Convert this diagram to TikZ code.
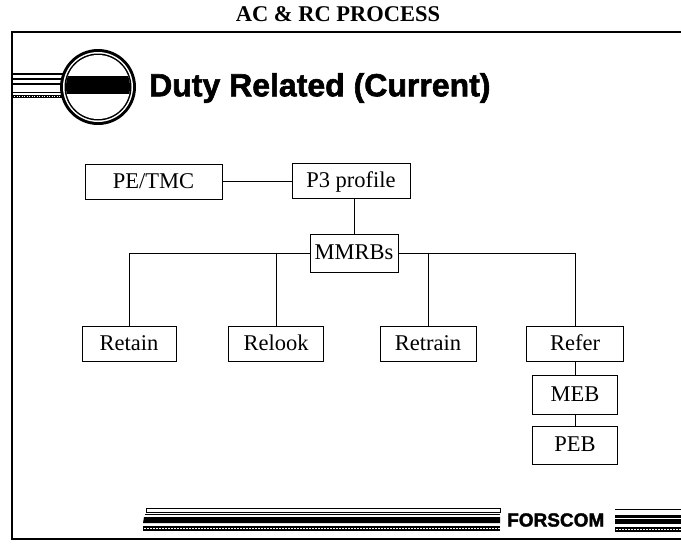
\documentclass[tikz,border=0pt]{standalone}
\usepackage{fontspec}
\setmainfont{Liberation Serif}
\newfontfamily\heavy{Liberation Sans}[BoldFeatures={FakeBold=1.8}]
\begin{document}
\begin{tikzpicture}[x=1pt,y=-1pt,
  box/.style={draw, line width=1pt, minimum height=35pt, inner sep=0pt, text height=15pt, text depth=1.5pt, font=\fontsize{22.5}{22.5}\selectfont},
  conn/.style={line width=1pt},
  frame/.style={line width=2pt}]
\useasboundingbox (0,0) rectangle (681,547);
% title
\node[font=\fontsize{22.5}{22.5}\selectfont\bfseries] (ttl) at (338,14) {AC \& RC PROCESS};
% frame
\draw[frame] (681,32) -- (12,32) -- (12,539) -- (681,539);
% logo stripes left
\draw[line width=1.2pt] (12,74) -- (66,74);
\draw[line width=1.2pt] (12,79) -- (66,79);
\draw[line width=2pt] (12,84) -- (66,84);
\draw[line width=1pt] (12,92) -- (66,92);
\fill (12,95) rectangle (66,98);
\draw[white, line width=0.6pt, dash pattern=on 1pt off 1.5pt] (14,96.5) -- (64,96.5);
% logo circle
\fill (98,87) circle (38);
\fill[white] (98,87) circle (35);
\fill (98,87) circle (33.5);
\fill[white] (98,87) circle (32);
\begin{scope}
\clip (98,87) circle (32);
\fill (60,76) rectangle (140,94);
\end{scope}
% heading
\node[anchor=west, font=\fontsize{32}{32}\selectfont\heavy\bfseries, inner sep=0pt] (hd) at (149,88) {Duty Related (Current)};
% boxes
\node[box, minimum width=137pt] (pe) at (153.5,181.5) {PE/TMC};
\node[box, minimum width=118pt] (p3) at (351,181) {P3 profile};
\node[box, minimum width=88pt, minimum height=38pt] (mm) at (354,253) {MMRBs};
\node[box, minimum width=94pt] (ret) at (129,344) {Retain};
\node[box, minimum width=95pt] (rel) at (276,344) {Relook};
\node[box, minimum width=96pt] (rtr) at (428,344) {Retrain};
\node[box, minimum width=97pt] (ref) at (575,344) {Refer};
\node[box, minimum width=85pt, minimum height=39pt] (meb) at (575,394.5) {MEB};
\node[box, minimum width=85pt, minimum height=38pt] (peb) at (575,445) {PEB};
% connectors
\draw[conn] (pe.east) -- (pe.east -| p3.west);
\draw[conn] (p3.south -| mm.north) -- (mm.north);
\draw[conn] (mm.west) -| (ret.north);
\draw[conn] (mm.west) -| (rel.north);
\draw[conn] (mm.east) -| (rtr.north);
\draw[conn] (mm.east) -| (ref.north);
\draw[conn] (ref.south) -- (meb.north);
\draw[conn] (meb.south) -- (peb.north);
% bottom stripes
\draw[line width=0.8pt] (146,508) rectangle (500,512);
\draw[line width=0.8pt] (145,514.5) -- (500,514.5);
\fill (144,517) -- (500,517) -- (500,523) -- (143,523) -- cycle;
\fill (143,526) rectangle (500,531);
\draw[white, line width=0.7pt, dash pattern=on 1.5pt off 1.5pt] (144,528.5) -- (500,528.5);
\node[anchor=west, font=\fontsize{19}{19}\selectfont\heavy\bfseries, inner sep=0pt] (fc) at (507,520) {FORSCOM};
\draw[line width=0.8pt] (615,509) -- (681,509);
\fill (615,515) rectangle (681,524);
\draw[white, line width=0.7pt] (615,518.5) -- (681,518.5);
\fill (615,527) rectangle (681,532);
\draw[white, line width=0.7pt, dash pattern=on 1.5pt off 1.5pt] (616,529.5) -- (681,529.5);
\end{tikzpicture}
\end{document}
